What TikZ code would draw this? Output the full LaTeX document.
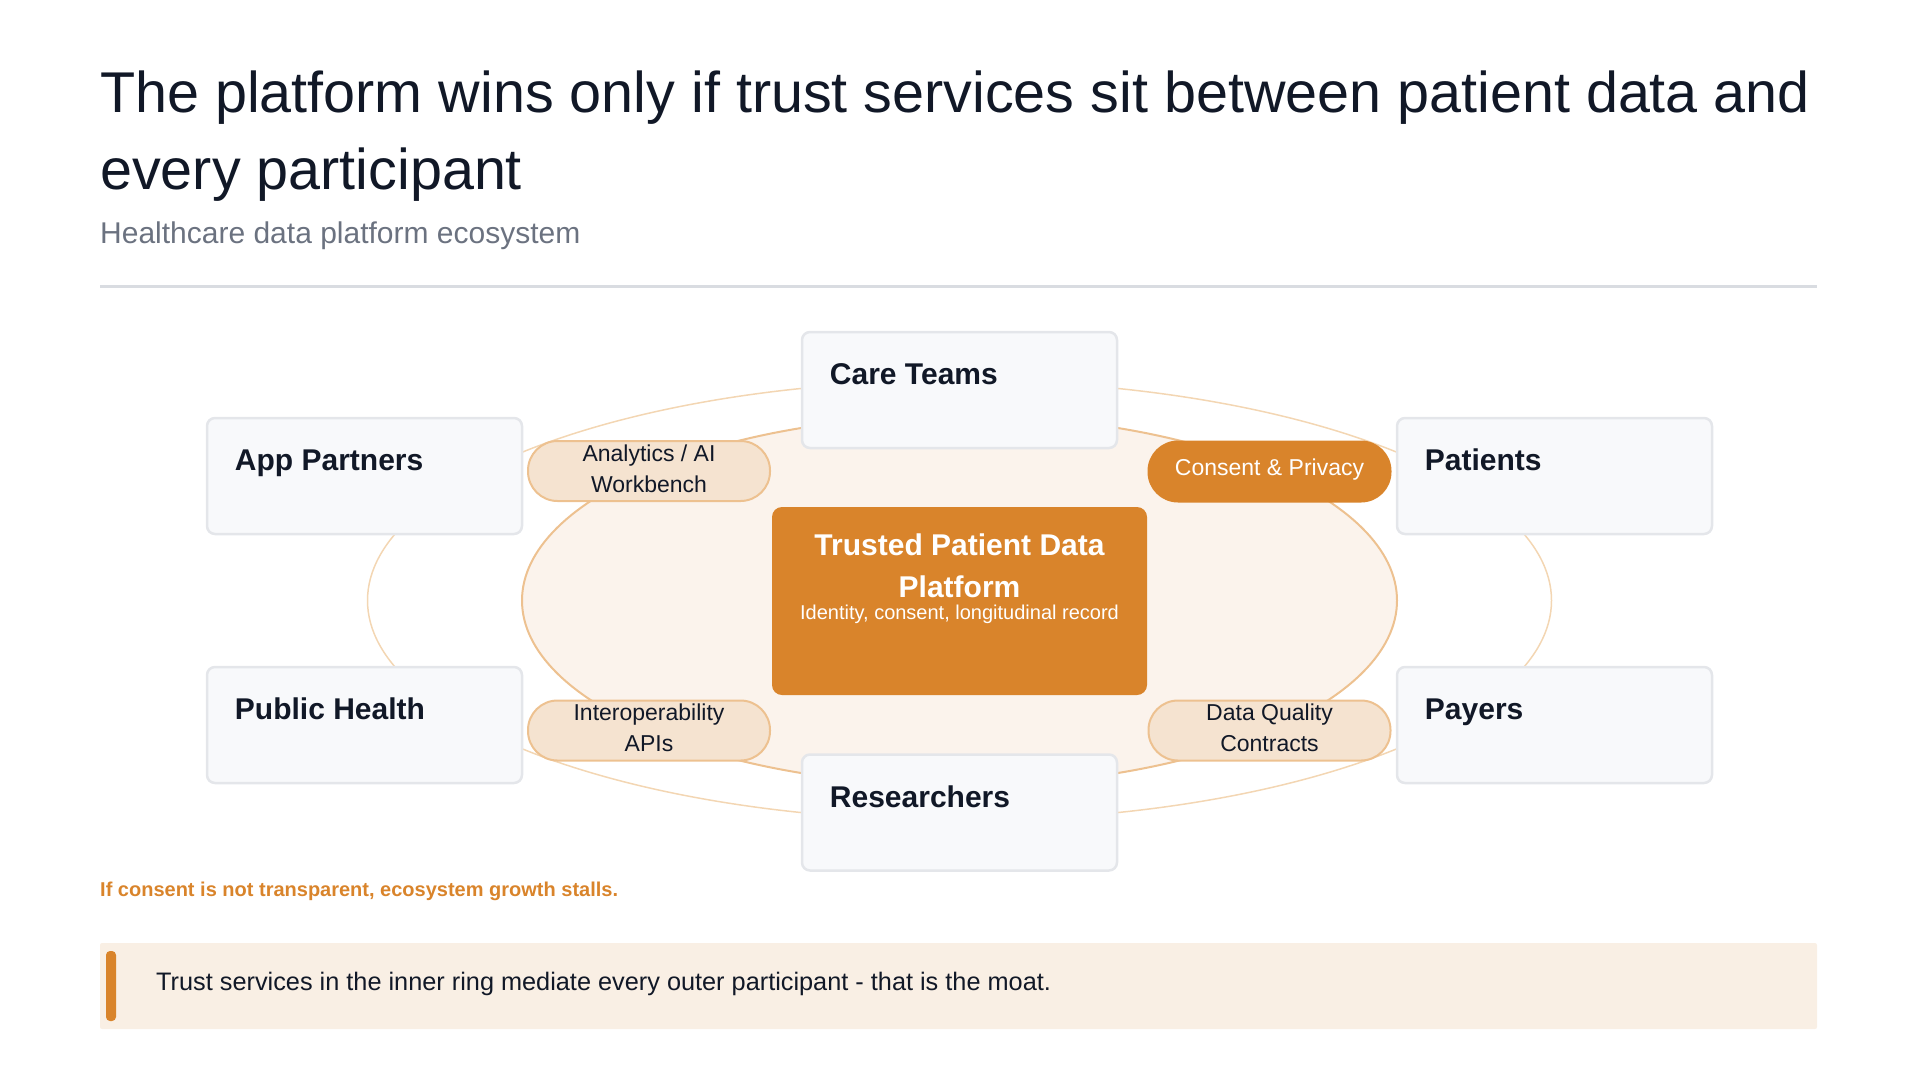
\documentclass[tikz,border=0pt]{standalone}
\usepackage{fontspec}
\setmainfont{Liberation Sans}
\definecolor{ink}{HTML}{111827}
\definecolor{muted}{HTML}{6B7280}
\definecolor{rulegray}{HTML}{D9DCE1}
\definecolor{amber}{HTML}{D9842B}
\definecolor{sand}{HTML}{F5E3D0}
\definecolor{sandline}{HTML}{EDC190}
\definecolor{cream}{HTML}{FBF3EC}
\definecolor{ringline}{HTML}{F3D6B3}
\definecolor{cardfill}{HTML}{F8F9FB}
\definecolor{cardline}{HTML}{E4E6EA}
\definecolor{notefill}{HTML}{F9EFE4}
\begin{document}
\begin{tikzpicture}[x=1pt,y=-1pt,
	participant/.style={draw=cardline, line width=2.5pt, fill=cardfill, rounded corners=8pt, minimum width=315pt, minimum height=116pt, inner sep=0pt},
	partname/.style={anchor=base west, inner sep=0pt, text=ink, font=\fontsize{30}{36}\selectfont\bfseries},
	service/.style={draw=sandline, line width=2pt, fill=sand, rounded corners=29.5pt, minimum width=242pt, minimum height=60pt, inner sep=0pt, text depth=5pt, align=center, text=ink, font=\fontsize{23}{31}\selectfont},
	keyservice/.style={service, draw=amber, fill=amber, text=white, text depth=9pt}]
	  \useasboundingbox (0,0) rectangle (1919,1080);
	  
	  \node[anchor=base west, inner sep=0pt, text=ink, font=\fontsize{57.5}{77}\selectfont] (title) at (100,112) {The platform wins only if trust services sit between patient data and};
	  \node[anchor=base west, inner sep=0pt, text=ink, font=\fontsize{57.5}{77}\selectfont] (title2) at (100,189) {every participant};
	  \node[anchor=base west, inner sep=0pt, text=muted, font=\fontsize{30}{36}\selectfont] (subtitle) at (100,243) {Healthcare data platform ecosystem};
	  \draw[rulegray, line width=3pt] (100,286) -- (1817,286);
	  
	  \draw[ringline, line width=1.5pt] (959.5,600.5) ellipse [x radius=592pt, y radius=220pt];
	  \draw[sandline, line width=2pt, fill=cream] (959.5,600.5) ellipse [x radius=437.5pt, y radius=185pt];
	  
	  \node[participant] (care) at (959.5,390) {};
	  \node[participant] (app) at (364.5,476) {};
	  \node[participant] (patients) at (1554.5,476) {};
	  \node[participant] (public) at (364.5,725) {};
	  \node[participant] (payers) at (1554.5,725) {};
	  \node[participant] (research) at (959.5,812.5) {};
	  
	  \node[partname] (carename) at ([xshift=29pt,yshift=-54pt]care.north west) {Care Teams};
	  \node[partname] (appname) at ([xshift=29pt,yshift=-54pt]app.north west) {App Partners};
	  \node[partname] (patientsname) at ([xshift=29pt,yshift=-54pt]patients.north west) {Patients};
	  \node[partname] (publicname) at ([xshift=29pt,yshift=-54pt]public.north west) {Public Health};
	  \node[partname] (payersname) at ([xshift=29pt,yshift=-54pt]payers.north west) {Payers};
	  \node[partname] (researchname) at ([xshift=29pt,yshift=-54pt]research.north west) {Researchers};
	  
	  \node[fill=amber, rounded corners=10pt, minimum width=375pt, minimum height=188pt, inner sep=0pt] (core) at (959.5,601) {};
	  \node[anchor=north, inner sep=0pt, align=center, text=white, font=\fontsize{30}{42}\selectfont\bfseries] (coretitle) at ([yshift=-27pt]core.north) {Trusted Patient Data\\Platform};
	  \node[anchor=base, inner sep=0pt, text=white, font=\fontsize{20}{24}\selectfont] (coresub) at ([yshift=-113pt]core.north) {Identity, consent, longitudinal record};
	  
	  \node[service] (analytics) at (649,471) {Analytics / AI\\Workbench};
	  \node[keyservice] (consent) at (1269.5,471.5) {Consent \& Privacy};
	  \node[service] (interop) at (649,730.5) {Interoperability\\APIs};
	  \node[service] (quality) at (1269.5,730.5) {Data Quality\\Contracts};
	  
	  \node[anchor=base west, inner sep=0pt, text=amber, font=\fontsize{20}{24}\selectfont\bfseries] (warning) at (100,896) {If consent is not transparent, ecosystem growth stalls.};
	  \fill[notefill, rounded corners=2pt] (100,943) rectangle (1817,1029);
	  \fill[amber, rounded corners=4pt] (106,951) rectangle (116,1021);
	  \node[anchor=base west, inner sep=0pt, text=ink, font=\fontsize{25.3}{30}\selectfont] (takeaway) at (156,990) {Trust services in the inner ring mediate every outer participant - that is the moat.};
	\end{tikzpicture}
\end{document}
